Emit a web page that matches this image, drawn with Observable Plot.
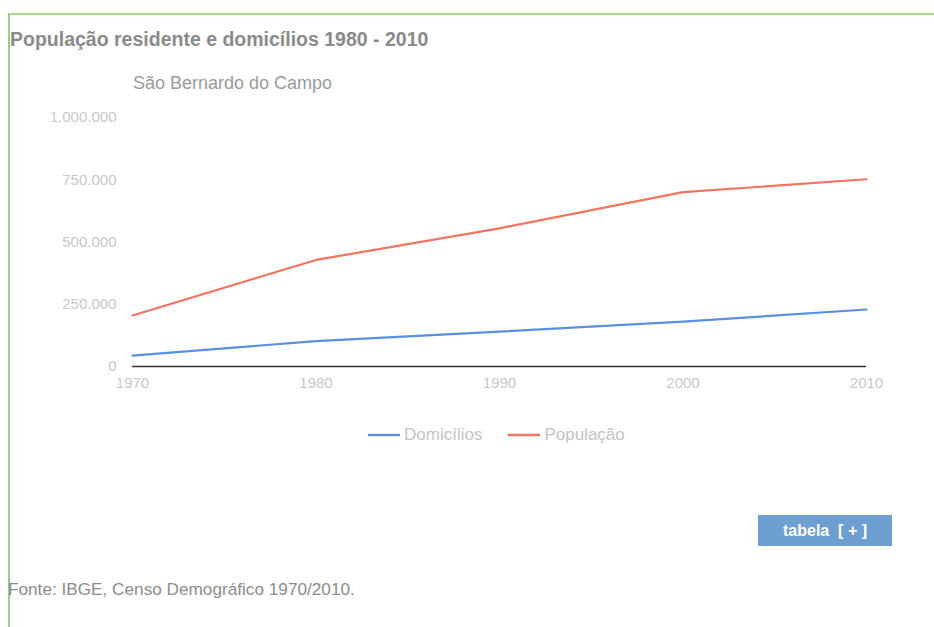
<!DOCTYPE html>
<html>
<head>
<meta charset="utf-8">
<script src="https://cdn.jsdelivr.net/npm/d3@7"></script>
<script src="https://cdn.jsdelivr.net/npm/@observablehq/plot@0.6"></script>
<style>
  html, body { margin: 0; padding: 0; background: #fff; width: 934px; height: 627px; overflow: hidden; font-family: "Liberation Sans", Arial, sans-serif; }
  #frame { position: absolute; left: 8px; top: 13px; width: 930px; height: 620px; border-left: 2px solid #8fd38a; border-top: 2px solid #a8dc86; }
  #title { position: absolute; left: 10px; top: 28px; font-size: 19.5px; font-weight: bold; color: #8a8a8a; white-space: nowrap; }
  #subtitle { position: absolute; left: 133px; top: 73px; font-size: 18px; color: #9a9a9a; white-space: nowrap; }
  #chart { position: absolute; left: 0; top: 100px; }
  #legend { position: absolute; left: 368px; top: 425px; font-size: 17px; color: #c4c4c4; white-space: nowrap; display: flex; align-items: center; }
  #legend .item { display: flex; align-items: center; margin-right: 26px; }
  #legend svg { margin-right: 4px; }
  #btn { position: absolute; left: 758px; top: 515px; width: 134px; height: 31px; background: #6e9fd1; color: #fff; font-weight: bold; font-size: 16px; line-height: 31px; text-align: center; }
  #source { position: absolute; left: 8px; top: 579px; font-size: 17.2px; color: #8c8c8c; white-space: nowrap; }
</style>
</head>
<body>
<div id="frame"></div>
<div id="title">População residente e domicílios 1980 - 2010</div>
<div id="subtitle">São Bernardo do Campo</div>
<div id="chart"></div>
<div id="legend"></div>
<div id="btn">tabela&nbsp;&nbsp;[ + ]</div>
<div id="source">Fonte: IBGE, Censo Demográfico 1970/2010.</div>
<script>
const years = [1970, 1980, 1990, 2000, 2010];
const domicilios = [44000, 102000, 140000, 180000, 229000];
const populacao = [205000, 428000, 555000, 700000, 752000];
const seriesNames = ["Domicílios", "População"];
const seriesColors = ["#5a8ee0", "#f2735f"];
const yTicks = [0, 250000, 500000, 750000, 1000000];
const yTickLabels = ["0", "250.000", "500.000", "750.000", "1.000.000"];

const rows = [];
years.forEach((yr, i) => {
  rows.push({ year: yr, value: domicilios[i], serie: seriesNames[0] });
  rows.push({ year: yr, value: populacao[i], serie: seriesNames[1] });
});

const chart = Plot.plot({
  width: 934,
  height: 300,
  marginLeft: 132,
  marginRight: 68,
  marginTop: 17,
  marginBottom: 34,
  style: { fontFamily: "Liberation Sans, Arial, sans-serif", fontSize: "15px", background: "transparent" },
  x: { domain: [1970, 2010], ticks: years, tickFormat: d => String(d), label: null },
  y: { domain: [0, 1000000], ticks: yTicks, tickFormat: d => yTickLabels[yTicks.indexOf(d)], label: null },
  color: { domain: seriesNames, range: seriesColors },
  marks: [
    Plot.axisX({ ticks: years, tickFormat: d => String(d), tickSize: 0, tickPadding: 11, color: "#c8c8c8", label: null }),
    Plot.axisY({ ticks: yTicks, tickFormat: d => yTickLabels[yTicks.indexOf(d)], tickSize: 0, tickPadding: 16, color: "#c8c8c8", label: null }),
    Plot.ruleY([0], { stroke: "#333", strokeWidth: 1.5 }),
    Plot.line(rows, { x: "year", y: "value", z: "serie", stroke: "serie", strokeWidth: 2.2 })
  ]
});
document.getElementById("chart").appendChild(chart);

const legend = document.getElementById("legend");
seriesNames.forEach((name, i) => {
  const item = document.createElement("div");
  item.className = "item";
  item.innerHTML = `<svg width="32" height="6"><line x1="0" y1="3" x2="32" y2="3" stroke="${seriesColors[i]}" stroke-width="2.5"/></svg><span>${name}</span>`;
  legend.appendChild(item);
});
</script>
</body>
</html>
